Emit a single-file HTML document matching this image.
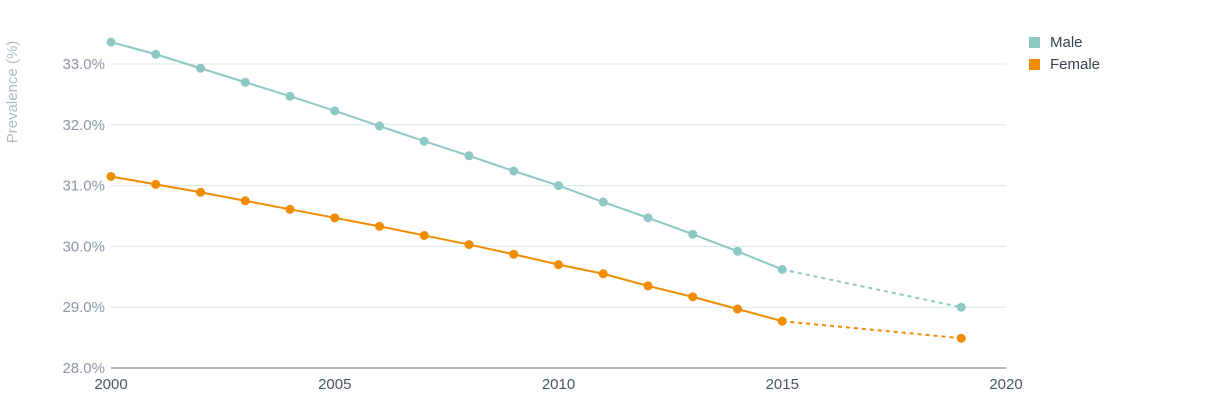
<!DOCTYPE html>
<html><head><meta charset="utf-8"><style>
body{margin:0;background:#fff;width:1230px;height:403px;overflow:hidden;font-family:"Liberation Sans",sans-serif}
svg text{font-family:"Liberation Sans",sans-serif}
</style></head><body>
<svg id="chart" width="1230" height="403" xmlns="http://www.w3.org/2000/svg">
<g id="grid"></g><g id="axes"></g><g id="series"></g><g id="legend"></g>
</svg>
<script>
const yearsSolid = [2000,2001,2002,2003,2004,2005,2006,2007,2008,2009,2010,2011,2012,2013,2014,2015];
const maleValues = [33.36,33.16,32.93,32.70,32.47,32.23,31.98,31.73,31.49,31.24,31.00,30.73,30.47,30.20,29.92,29.62];
const femaleValues = [31.15,31.02,30.89,30.75,30.61,30.47,30.33,30.18,30.03,29.87,29.70,29.55,29.35,29.17,28.97,28.77];
const projYear = 2019;
const maleProj = 29.00;
const femaleProj = 28.49;
const yTicks = [28,29,30,31,32,33];
const xTicks = [2000,2005,2010,2015,2020];

const NS="http://www.w3.org/2000/svg";
function X(v){return 111+(v-2000)*(1006-111)/20;}
function Y(v){return 368-(v-28)*60.8;}
function mk(tag,attrs,parent){const e=document.createElementNS(NS,tag);for(const k in attrs)e.setAttribute(k,attrs[k]);parent.appendChild(e);return e;}
const grid=document.getElementById('grid'),axes=document.getElementById('axes'),ser=document.getElementById('series'),leg=document.getElementById('legend');

yTicks.forEach(t=>{
  if(t>28){const l=mk('line',{x1:111,x2:1006,y1:Y(t),y2:Y(t),stroke:'#d6eae3','stroke-width':1},grid);
  
  }
  const tx=mk('text',{x:105,y:Y(t)+5,'text-anchor':'end','font-size':15,fill:'#8d95a6'},axes);
  tx.textContent=t.toFixed(1)+'%';
  
  
});
const ax=mk('line',{x1:111,x2:1006,y1:368,y2:368,stroke:'#5f6b7a','stroke-width':1},axes);


xTicks.forEach(t=>{
  const tx=mk('text',{x:X(t),y:389,'text-anchor':'middle','font-size':15,fill:'#4b5563'},axes);
  tx.textContent=t;
  
  
});
const yt=mk('text',{x:0,y:0,'font-size':15,fill:'#b3bac6','text-anchor':'middle',transform:'translate(17,92) rotate(-90)'},axes);
yt.textContent='Prevalence (%)';



function series(vals,proj,color,name){
  const pts=yearsSolid.map((y,i)=>X(y)+','+Y(vals[i])).join(' ');
  const pl=mk('polyline',{points:pts,fill:'none',stroke:color,'stroke-width':2},ser);
  
  
  const last=vals.length-1;
  const d=mk('line',{x1:X(yearsSolid[last]),y1:Y(vals[last]),x2:X(projYear),y2:Y(proj),stroke:color,'stroke-width':2,'stroke-dasharray':'4,4'},ser);
  
  
  yearsSolid.forEach((y,i)=>{
    const c=mk('circle',{cx:X(y),cy:Y(vals[i]),r:4.5,fill:color},ser);
    
    
  });
  const c=mk('circle',{cx:X(projYear),cy:Y(proj),r:4.5,fill:color},ser);
  
  
}
series(maleValues,maleProj,'#8ec8c4','male');
series(femaleValues,femaleProj,'#f08c00','female');

[['Male','#8ec8c4',42],['Female','#f08c00',64]].forEach(([n,c,y])=>{
  const g=mk('g',{},leg);
  
  
  mk('rect',{x:1029,y:y-5,width:11,height:11,fill:c},g);
  const t=mk('text',{x:1050,y:y+5,'font-size':15,fill:'#374151'},g);
  t.textContent=n;
});
</script>
</body></html>
